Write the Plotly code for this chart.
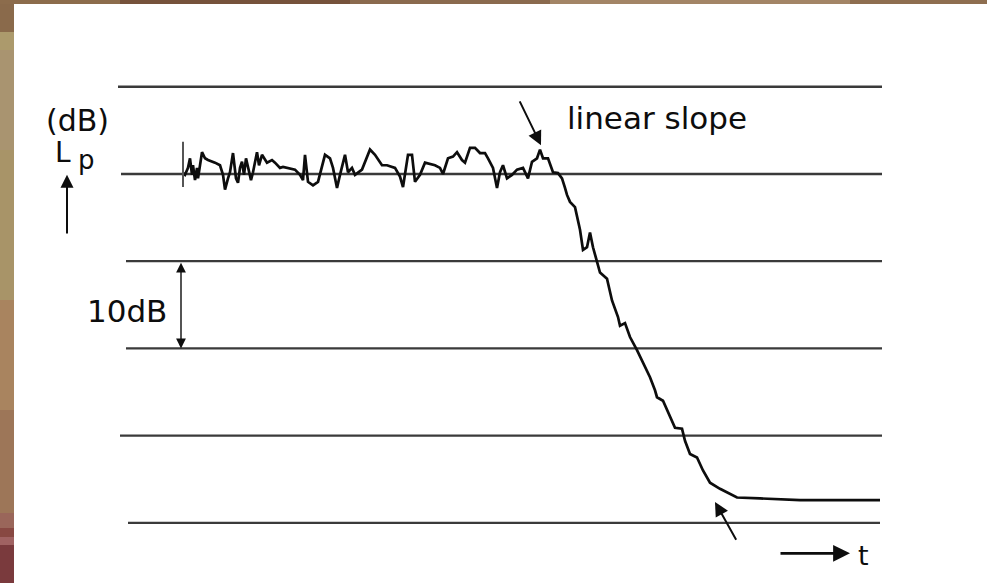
import plotly.graph_objects as go

# decay trace: time (ms, from start of recording) and sound pressure level (dB re steady level)
t_ms = [0, 2, 5, 7, 9, 10, 12, 14, 15, 19, 22, 25, 32, 37, 40, 42, 45, 47, 50, 53, 55, 57, 59, 61, 63, 65,
        68, 70, 74, 76, 79, 84, 89, 92, 97, 100, 105, 112, 117, 120, 122, 125, 130, 135, 142, 147, 150, 154,
        157, 162, 165, 169, 172, 179, 187, 192, 199, 204, 212, 217, 220, 225, 229, 232, 237, 242, 252, 257,
        260, 265, 270, 274, 279, 282, 287, 292, 297, 302, 305, 310, 314, 317, 320, 324, 329, 334, 340, 345,
        349, 354, 357, 360, 365, 370, 375, 379, 382, 384, 387, 392, 397, 400, 404, 407, 410, 414, 417, 424,
        429, 435, 437, 442, 447, 454, 460, 467, 472, 474, 480, 487, 492, 499, 502, 507, 514, 520, 527, 537,
        554, 577, 617, 697]
level_db = [0.1, -0.1, 0.7, 1.8, -0.1, 1.0, -0.7, 0.7, -0.5, 2.5, 1.8, 1.6, 1.3, 1.0, -0.1, -1.8, -0.5, 0.2,
            2.4, -0.5, -1.0, 0.7, 1.4, -0.1, 1.8, 0.7, -0.7, 0.2, 2.5, 1.0, 2.2, 1.3, 1.6, 1.3, 0.7, 0.8, 0.7,
            0.5, -0.1, -0.7, 2.2, -0.9, -1.3, -0.9, 2.2, 1.8, 0.7, -1.6, -0.1, 2.2, 0.2, 0.7, -0.1, 0.5, 2.8,
            2.2, 1.0, 1.0, 0.7, -0.3, -1.5, 2.2, 2.2, -0.9, -0.1, 1.3, 1.0, 0.7, 0.0, 1.8, 2.0, 2.5, 1.6, 1.3,
            3.0, 3.0, 2.4, 2.4, 1.8, 0.7, -1.6, 0.2, 1.0, -0.5, -0.1, 0.5, 0.7, -0.5, 1.4, 1.8, 2.8, 1.8, 1.8,
            0.2, 0.1, -0.5, -1.6, -2.4, -3.2, -3.8, -6.4, -8.7, -8.4, -6.7, -8.4, -10.1, -11.3, -12.0, -14.5,
            -16.4, -17.4, -17.1, -18.7, -20.2, -21.7, -23.3, -24.8, -25.6, -26.0, -27.9, -29.1, -29.2, -30.6,
            -32.1, -32.5, -34.0, -35.4, -36.1, -37.1, -37.2, -37.4, -37.4]

# reference grid levels (dB) and their horizontal extents (ms)
grid_levels = [10, 0, -10, -20, -30, -40]
grid_start = [-65, -62, -57, -57, -63, -55]
grid_end = [699, 699, 699, 699, 699, 697]

# start marker of the recording
start_mark_t = 0
start_mark_db = [3.7, -1.5]

# annotation positions (ms, dB)
slope_arrow_head = (358, 3.3)
slope_arrow_tail = (336, 8.5)
floor_arrow_head = (532, -37.6)
floor_arrow_tail = (554, -42.1)
range_marker_t = -2
range_marker_db = (-10, -20)

X_RANGE = [-183, 804]
Y_RANGE = [-46.9, 19.95]

FONT = "DejaVu Sans"
INK = "#0d0d0d"

fig = go.Figure()
fig.add_trace(go.Scatter(x=t_ms, y=level_db, mode="lines",
                         line=dict(color=INK, width=2.7), hoverinfo="skip", showlegend=False))

shapes = []
# background border (slide frame)
left_bands = [(0, 32, "#8a6a4b"), (32, 50, "#ac9a6c"), (50, 150, "#a99470"), (150, 300, "#a89468"),
              (300, 410, "#a9845f"), (410, 513, "#9d7658"), (513, 528, "#9a665a"), (528, 537, "#884842"),
              (537, 545, "#a06262"), (545, 583, "#7a3a3d")]
for y0, y1, c in left_bands:
    shapes.append(dict(type="rect", xref="paper", yref="paper", x0=0, x1=14 / 987,
                       y0=1 - y1 / 583, y1=1 - y0 / 583, fillcolor=c, line=dict(width=0), layer="above"))
top_bands = [(0, 120, "#8c6c4c"), (120, 350, "#76523b"), (350, 550, "#8a6a4e"), (550, 850, "#a38566"),
             (850, 987, "#8e6e50")]
for x0, x1, c in top_bands:
    shapes.append(dict(type="rect", xref="paper", yref="paper", x0=x0 / 987, x1=x1 / 987,
                       y0=1 - 4 / 583, y1=1, fillcolor=c, line=dict(width=0), layer="above"))

for lv, xs, xe in zip(grid_levels, grid_start, grid_end):
    shapes.append(dict(type="line", xref="x", yref="y", x0=xs, x1=xe, y0=lv, y1=lv,
                       line=dict(color="#3a3a3a", width=2.3), layer="below"))
shapes.append(dict(type="line", xref="x", yref="y", x0=start_mark_t, x1=start_mark_t,
                   y0=start_mark_db[0], y1=start_mark_db[1], line=dict(color="#555555", width=2)))

ann = []
def arrow(head, tail, side="end", width=2, size=1.4):
    ann.append(dict(x=head[0], y=head[1], ax=tail[0], ay=tail[1], xref="x", yref="y",
                    axref="x", ayref="y", text="", showarrow=True, arrowhead=2, arrowsize=size,
                    arrowwidth=width, arrowcolor=INK, arrowside=side, standoff=0, startstandoff=0))

arrow(slope_arrow_head, slope_arrow_tail)
arrow(floor_arrow_head, floor_arrow_tail)
arrow((range_marker_t, range_marker_db[1]), (range_marker_t, range_marker_db[0]), side="end+start",
      width=1.4, size=1.4)
arrow((-116, -0.1), (-116, -7.0), width=2, size=1.3)      # L_p axis arrow
arrow((667, -43.5), (596, -43.5), width=2.6, size=1.3)    # time axis arrow

def label(x, y, text, size, xanchor="center"):
    ann.append(dict(x=x, y=y, xref="x", yref="y", text=text, showarrow=False, xanchor=xanchor,
                    yanchor="middle", font=dict(family=FONT, size=size, color=INK)))

label(-106, 6.1, "(dB)", 30)
label(-120, 2.5, "L", 28)
label(-97, 1.6, "p", 26)
label(-56, -15.7, "10dB", 31)
label(474, 6.4, "linear slope", 31)
label(673, -43.7, "t", 27, xanchor="left")

fig.update_layout(
    width=987, height=583, margin=dict(l=0, r=0, t=0, b=0),
    paper_bgcolor="white", plot_bgcolor="white",
    xaxis=dict(range=X_RANGE, visible=False, showgrid=False, zeroline=False, fixedrange=True),
    yaxis=dict(range=Y_RANGE, visible=False, showgrid=False, zeroline=False, fixedrange=True),
    shapes=shapes, annotations=ann, showlegend=False,
)
fig.write_html("out.html")
